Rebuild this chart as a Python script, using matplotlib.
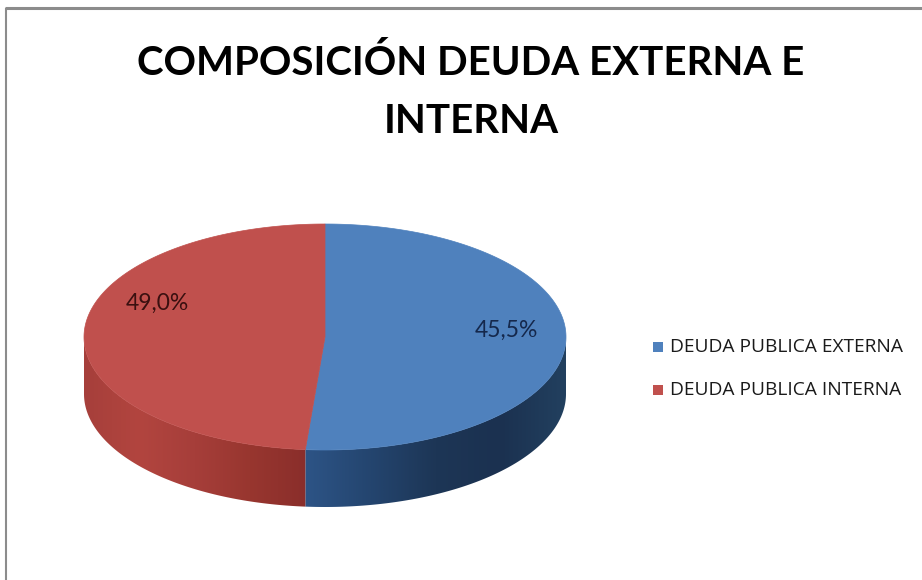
import numpy as np
import matplotlib.pyplot as plt
from matplotlib.path import Path
from matplotlib.patches import PathPatch, Polygon, Rectangle
from matplotlib.colors import LinearSegmentedColormap

TITLE = "COMPOSICIÓN DEUDA EXTERNA E\nINTERNA"
CATEGORIES = ["DEUDA PUBLICA EXTERNA", "DEUDA PUBLICA INTERNA"]
LABELS = ["45,5%", "49,0%"]
SHARES = [51.3, 48.7]  # slice sizes as drawn in the picture
TOP_COLORS = ["#4F81BD", "#C0504D"]
# side shading, listed left -> right
SIDE_COLORS = [
    ["#2D5486", "#24456F", "#1D3656", "#1B3150", "#22405F"],
    ["#A63F3B", "#B2453F", "#A63E3A", "#98362F", "#8A2E2B"],
]
TEXT_COLORS = ["#15284C", "#3A1010"]

# pie geometry in pixels
CX, CY = 325, 337
RX, RY = 241, 113
DEPTH = 57


def ell(theta):
    t = np.radians(theta)
    return CX + RX * np.sin(t), CY - RY * np.cos(t)


fig = plt.figure(figsize=(9.22, 5.8), dpi=100)
ax = fig.add_axes([0, 0, 1, 1])
ax.set_xlim(0, 922)
ax.set_ylim(580, 0)
ax.axis("off")

angles = np.concatenate([[0], np.cumsum(SHARES) / np.sum(SHARES) * 360])

# side walls with horizontal gradient
for i in range(len(SHARES)):
    t0, t1 = max(angles[i], 90), min(angles[i + 1], 270)
    if t1 <= t0:
        continue
    ts = np.linspace(t0, t1, 120)
    xs, ys = ell(ts)
    verts = np.column_stack([np.r_[xs, xs[::-1]], np.r_[ys, ys[::-1] + DEPTH]])
    patch = PathPatch(Path(np.vstack([verts, verts[:1]]), closed=True),
                      facecolor="none", edgecolor="none")
    ax.add_patch(patch)
    cmap = LinearSegmentedColormap.from_list(f"side{i}", SIDE_COLORS[i])
    grad = np.linspace(0, 1, 256).reshape(1, -1)
    im = ax.imshow(grad, cmap=cmap, aspect="auto",
                   extent=(xs.min(), xs.max(), ys.max() + DEPTH + 1, ys.min() - 1),
                   interpolation="bilinear")
    im.set_clip_path(patch)

# top face
for i in range(len(SHARES)):
    ts = np.linspace(angles[i], angles[i + 1], 200)
    xs, ys = ell(ts)
    verts = np.column_stack([np.r_[CX, xs], np.r_[CY, ys]])
    ax.add_patch(Polygon(verts, closed=True, facecolor=TOP_COLORS[i],
                         edgecolor=TOP_COLORS[i], linewidth=0.5))

ax.set_xlim(0, 922)
ax.set_ylim(580, 0)

# data labels
label_pos = [(506, 330), (157, 303)]
for (x, y), txt, col in zip(label_pos, LABELS, TEXT_COLORS):
    ax.text(x, y, txt, ha="center", va="center", fontsize=16.5,
            family="Lato", color=col)

ax.text(471, 92, TITLE, ha="center", va="center", fontsize=29,
        family="Lato", fontweight="bold", color="black", linespacing=1.7)

# legend
for k, (name, col) in enumerate(zip(CATEGORIES, TOP_COLORS)):
    y = 347 + k * 43
    ax.add_patch(Rectangle((653, y - 5), 10, 10, facecolor=col, edgecolor="none"))
    ax.text(670, y, name, ha="left", va="center", fontsize=13.8,
            family="Open Sans", color="#1a1a1a")

# chart frame (only top and left edges are visible)
ax.plot([5, 922], [8, 8], color="#8c8c8c", linewidth=2.2, solid_capstyle="butt")
ax.plot([6, 6], [8, 580], color="#8c8c8c", linewidth=1.5, solid_capstyle="butt")

fig.savefig("out.png", dpi=100)
